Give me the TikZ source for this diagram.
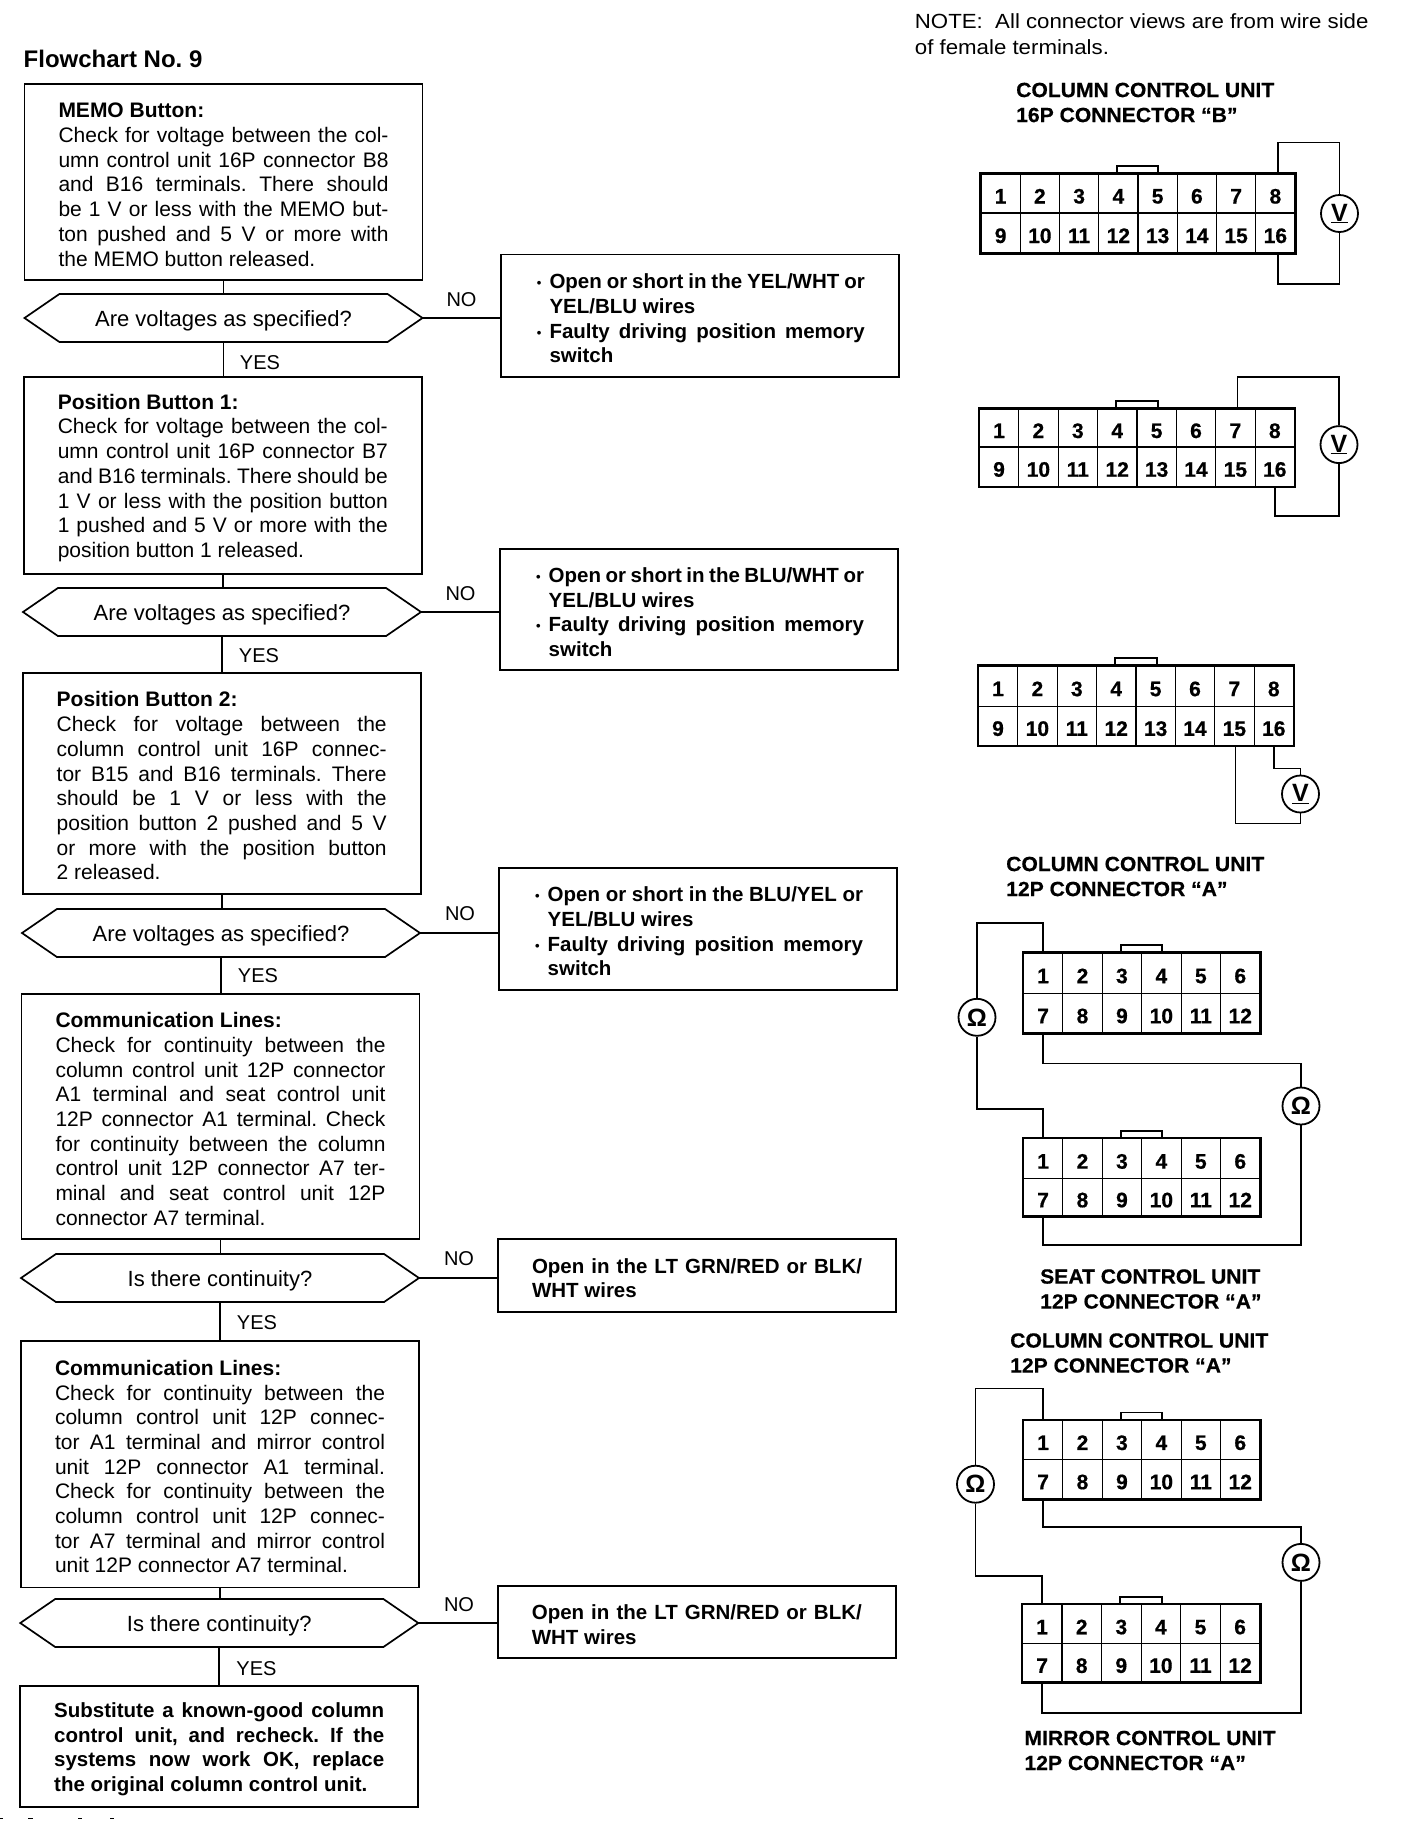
\documentclass[tikz,border=0pt]{standalone}
\usepackage{fontspec}
\setmainfont{Liberation Sans}
\newfontfamily\notefont[FakeStretch=1.085]{Liberation Sans}
\newfontfamily\headfont[FakeStretch=1.03,FakeBold=0.5]{Liberation Sans Bold}
\newfontfamily\cellfont[FakeBold=0.6]{Liberation Sans Bold}
\usetikzlibrary{shapes.symbols,calc}
\AtBeginDocument{\frenchspacing}
\newcommand{\J}[1]{\makebox[\hsize][s]{#1}}
\newcommand{\Lo}{\rule{0pt}{20pt}}
\newcommand{\fcbul}{\makebox[14.7pt][l]{\hspace{2pt}\raisebox{1pt}{\fontsize{13}{13}\selectfont\textbf{•}}}}
\newcommand{\Bl}[1]{\fcbul\makebox[315.3pt][s]{#1}}
\newcommand{\Cn}[1]{\hspace*{14.7pt}#1}
% name, x left, y top, y mid, y bottom, columns, column width, tab left, tab right
\newcommand{\conn}[9]{%
  \pgfmathsetmacro\lastcell{int(2*#6)}
  \foreach \i in {1,...,#6}{
    \pgfmathsetmacro\lowcell{int(\i+#6)}
    \node[cell,minimum width=#7pt,minimum height={(#4-#3)*1pt}] (#1-\i) at ({#2+(\i-0.5)*#7},{(#3+#4)/2}) {\i};
    \node[cell,minimum width=#7pt,minimum height={(#5-#4)*1pt}] (#1-\lowcell) at ({#2+(\i-0.5)*#7},{(#4+#5)/2}) {\lowcell};
  }
  \draw[frame] (#1-1.north west) rectangle (#1-\lastcell.south east);
  \draw[wire] (#8,#3) -- (#8,{#3-8}) -- (#9,{#3-8}) -- (#9,#3);
}
\tikzset{
  base/.style={font=\fontsize{21}{24.7}\selectfont},
  procbox/.style={base,draw,line width=1.7pt,text width=330pt,inner xsep=34pt,inner ysep=0pt,align=flush left,outer sep=0pt},
  resbox/.style={procbox,font=\fontsize{20.5}{24.7}\selectfont\bfseries},
  hex/.style={font=\fontsize{22}{24}\selectfont,draw,line width=1.7pt,signal,signal to=east and west,signal pointer angle=69,minimum width=398pt,minimum height=48pt,inner sep=0pt,outer sep=0pt,text height=18pt,text depth=1.4pt},
  link/.style={line width=1.7pt},
  wire/.style={line width=1.7pt},
  frame/.style={line width=2.4pt},
  cell/.style={draw,line width=1.2pt,inner sep=0pt,text height=20pt,text depth=0pt,font=\fontsize{21}{21}\cellfont},
  meter/.style={draw,circle,line width=1.8pt,minimum size=37pt,inner sep=0pt,fill=white,font=\fontsize{25}{25}\selectfont\bfseries},
  flag/.style={font=\fontsize{20}{24}\selectfont,inner sep=0pt},
  heading/.style={inner sep=0pt,anchor=west,align=flush left,font=\fontsize{20.5}{25}\headfont},
  note/.style={inner sep=0pt,anchor=west,align=flush left,font=\fontsize{20.5}{26}\notefont},
}
\begin{document}
\begin{tikzpicture}[x=1pt,y=-1pt]
\useasboundingbox[fill=white] (0,0) rectangle (1408,1840);

\node[inner sep=0pt,anchor=west,font=\fontsize{24}{24}\selectfont\bfseries] (title) at (23.5,59) {Flowchart No. 9};
\node[note] (note) at (914.7,34.5) {NOTE:\ \ All connector views are from wire side\\of female terminals.};

% ---- flow: process boxes
\node[procbox,minimum height=196pt] (b1) at (223.5,182) {\Lo\textbf{MEMO Button:}\\
\J{Check for voltage between the col-}\\
\J{umn control unit 16P connector B8}\\
\J{and B16 terminals. There should}\\
\J{be 1 V or less with the MEMO but-}\\
\J{ton pushed and 5 V or more with}\\
the MEMO button released.};
\node[hex] (h1) at (223.5,318) {Are voltages as specified?};
\node[procbox,minimum height=197pt] (b2) at (222.8,475.5) {\Lo\textbf{Position Button 1:}\\
\J{Check for voltage between the col-}\\
\J{umn control unit 16P connector B7}\\
\J{and B16 terminals. There should be}\\
\J{1 V or less with the position button}\\
\J{1 pushed and 5 V or more with the}\\
position button 1 released.};
\node[hex] (h2) at (222,612) {Are voltages as specified?};
\node[procbox,minimum height=221pt] (b3) at (221.7,783.5) {\Lo\textbf{Position Button 2:}\\
\J{Check for voltage between the}\\
\J{column control unit 16P connec-}\\
\J{tor B15 and B16 terminals. There}\\
\J{should be 1 V or less with the}\\
\J{position button 2 pushed and 5 V}\\
\J{or more with the position button}\\
2 released.};
\node[hex] (h3) at (221,933) {Are voltages as specified?};
\node[procbox,minimum height=245pt] (b4) at (220.5,1116.5) {\Lo\textbf{Communication Lines:}\\
\J{Check for continuity between the}\\
\J{column control unit 12P connector}\\
\J{A1 terminal and seat control unit}\\
\J{12P connector A1 terminal. Check}\\
\J{for continuity between the column}\\
\J{control unit 12P connector A7 ter-}\\
\J{minal and seat control unit 12P}\\
connector A7 terminal.};
\node[hex] (h4) at (220,1278) {Is there continuity?};
\node[procbox,minimum height=246.5pt] (b5) at (220,1464.2) {\Lo\textbf{Communication Lines:}\\
\J{Check for continuity between the}\\
\J{column control unit 12P connec-}\\
\J{tor A1 terminal and mirror control}\\
\J{unit 12P connector A1 terminal.}\\
\J{Check for continuity between the}\\
\J{column control unit 12P connec-}\\
\J{tor A7 terminal and mirror control}\\
unit 12P connector A7 terminal.};
\node[hex] (h5) at (219.3,1623) {Is there continuity?};
\node[resbox,minimum height=121pt] (b6) at (219.2,1746.5) {\Lo
\J{Substitute a known-good column}\\
\J{control unit, and recheck. If the}\\
\J{systems now work OK, replace}\\
the original column control unit.};

% ---- flow: result boxes
\node[resbox,minimum height=122.5pt] (r1) at (699.8,315.8) {\Lo
\Bl{Open or short in the YEL/WHT or}\\
\Cn{YEL/BLU wires}\\
\Bl{Faulty driving position memory}\\
\Cn{switch}};
\node[resbox,minimum height=121pt] (r2) at (699,609.5) {\Lo
\Bl{Open or short in the BLU/WHT or}\\
\Cn{YEL/BLU wires}\\
\Bl{Faulty driving position memory}\\
\Cn{switch}};
\node[resbox,minimum height=122pt] (r3) at (698,929) {\Lo
\Bl{Open or short in the BLU/YEL or}\\
\Cn{YEL/BLU wires}\\
\Bl{Faulty driving position memory}\\
\Cn{switch}};
\node[resbox,minimum height=73pt] (r4) at (697,1275.5) {\Lo
\J{Open in the LT GRN/RED or BLK/}\\
WHT wires};
\node[resbox,minimum height=72pt] (r5) at (696.8,1622) {\Lo
\J{Open in the LT GRN/RED or BLK/}\\
WHT wires};

% ---- flow: links
\foreach \bx/\hx/\nx/\rx in {b1/h1/b2/r1,b2/h2/b3/r2,b3/h3/b4/r3,b4/h4/b5/r4,b5/h5/b6/r5}{
  \draw[link] (\bx.south) -- (\bx.south |- \hx.north);
  \draw[link] (\hx.south) -- (\hx.south |- \nx.north);
  \draw[link] (\hx.east) -- (\hx.east -| \rx.west);
}
\node[flag] (no1) at (461.5,300) {NO};
\node[flag] (yes1) at (260,362.5) {YES};
\node[flag] (no2) at (460.5,594) {NO};
\node[flag] (yes2) at (259,656) {YES};
\node[flag] (no3) at (460,914) {NO};
\node[flag] (yes3) at (258,976) {YES};
\node[flag] (no4) at (459,1259) {NO};
\node[flag] (yes4) at (257,1323) {YES};
\node[flag] (no5) at (459,1605) {NO};
\node[flag] (yes5) at (256.5,1669) {YES};

% ---- connectors
\node[heading] (t1) at (1016,102.5) {COLUMN CONTROL UNIT\\16P CONNECTOR “B”};
\conn{ca}{981}{174}{213}{253}{8}{39.25}{1116.7}{1158.3}
\node[meter] (va) at (1339.5,213.5) {\underline{V}};
\draw[wire] ([xshift=2.5pt]ca-8.north) -- ++(0,-31) -| (va.north);
\draw[wire] (va.south) -- ++(0,51) -| ([xshift=2.5pt]ca-16.south);

\conn{cb}{979.3}{409}{447}{486.4}{8}{39.4}{1116}{1158.3}
\node[meter] (vb) at (1339,444.6) {\underline{V}};
\draw[wire] ([xshift=2pt]cb-7.north) -- ++(0,-31.5) -| (vb.north);
\draw[wire] (vb.south) -- ++(0,52) -| (cb-16.south);

\conn{cc}{978.3}{666}{706.3}{745.4}{8}{39.4}{1115}{1156.7}
\node[meter] (vc) at (1300.5,794) {\underline{V}};
\draw[wire] (cc-16.south) -- ++(0,22.6) -| (vc.north);
\draw[wire] ([xshift=1pt]cc-15.south) -- ++(0,77.6) -| (vc.south);

\node[heading] (t2) at (1006,876.5) {COLUMN CONTROL UNIT\\12P CONNECTOR “A”};
\conn{cd}{1023.3}{953}{993.4}{1033}{6}{39.45}{1121}{1161.7}
\conn{ce}{1023.3}{1138.7}{1178.6}{1216}{6}{39.45}{1121}{1161.7}
\node[meter] (oa) at (977,1017.3) {Ω};
\node[meter] (ob) at (1301,1106) {Ω};
\draw[wire] (oa.north) -- ++(0,-74.8) -| (cd-1.north);
\draw[wire] (oa.south) -- ++(0,72.5) -| (ce-1.north);
\draw[wire] (cd-7.south) -- ++(0,29.8) -| (ob.north);
\draw[wire] (ob.south) -- ++(0,119.5) -| (ce-7.south);
\node[heading] (t3) at (1040,1289) {SEAT CONTROL UNIT\\12P CONNECTOR “A”};

\node[heading] (t4) at (1010,1353) {COLUMN CONTROL UNIT\\12P CONNECTOR “A”};
\conn{cf}{1023.3}{1420.5}{1459.4}{1499}{6}{39.45}{1121}{1162}
\conn{cg}{1022.3}{1604.8}{1643.7}{1682}{6}{39.6}{1120}{1162}
\node[meter] (oc) at (975.5,1484.2) {Ω};
\node[meter] (od) at (1301,1562.4) {Ω};
\draw[wire] (oc.north) -- ++(0,-76.2) -| (cf-1.north);
\draw[wire] (oc.south) -- ++(0,72.1) -| (cg-1.north);
\draw[wire] (cf-7.south) -- ++(0,27.6) -| (od.north);
\draw[wire] (od.south) -- ++(0,130.9) -| (cg-7.south);
\node[heading] (t5) at (1024.3,1750.5) {MIRROR CONTROL UNIT\\12P CONNECTOR “A”};

% ---- clipped marks at the lower edge
\foreach \mx/\mw in {0/3,28/5,78/4,110/4}{
  \fill (\mx,1817.5) rectangle ++(\mw,1.5);
}
\end{tikzpicture}
\end{document}
